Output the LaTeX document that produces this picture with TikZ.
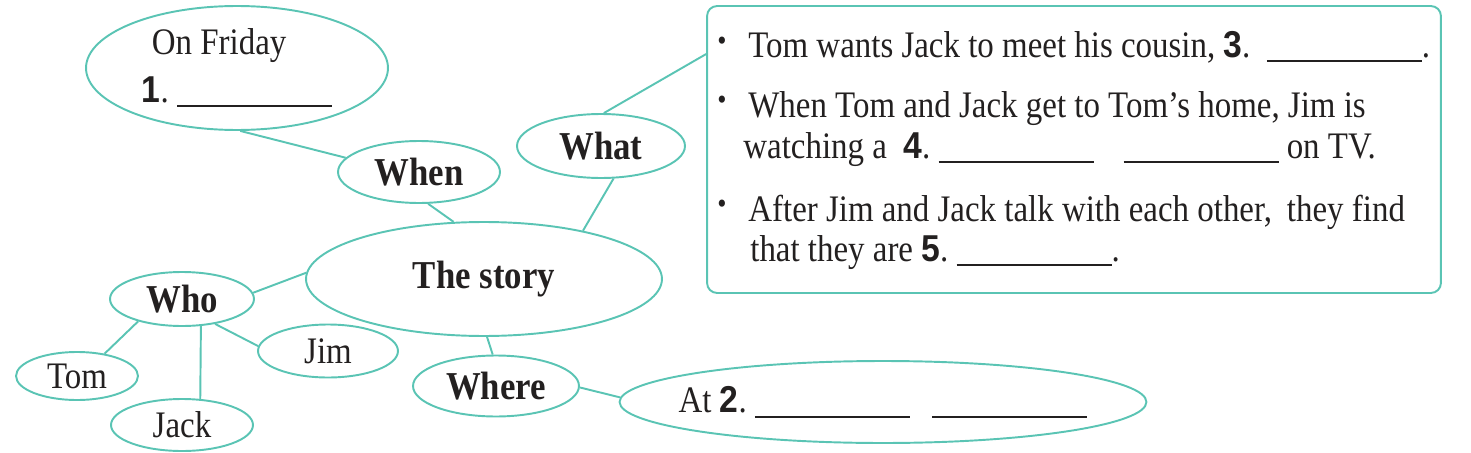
\documentclass[tikz,border=0pt]{standalone}
\usepackage{fontspec}
\setmainfont{Liberation Serif}[FakeStretch=0.88]
\newfontfamily\numfont{Liberation Sans}[FakeStretch=0.9]
\usetikzlibrary{shapes.geometric, calc}
\definecolor{MapTeal}{RGB}{90,196,180}
\definecolor{InkGray}{RGB}{35,32,32}
\newcommand{\qnum}[1]{{\numfont\bfseries #1}}
\newcommand{\blank}{\rule[-3pt]{3.1cm}{1.1pt}}

\begin{document}
\begin{tikzpicture}[x=0.02cm, y=-0.02cm,
    every node/.style={text=InkGray, font=\fontsize{21.3}{25}\selectfont},
    bubble/.style={draw=MapTeal, line width=1.1pt, ellipse, inner sep=0pt},
    key/.style={bubble, font=\fontsize{22.5}{26}\selectfont\bfseries},
    link/.style={draw=MapTeal, line width=1.1pt},
    infobox/.style={draw=MapTeal, line width=1.1pt, rounded corners=0.2cm, inner sep=0pt},
    item/.style={anchor=base west, inner sep=0pt},
    dot/.style={inner sep=0pt, font=\fontsize{17}{17}\selectfont}]
        \useasboundingbox (0,0) rectangle (1471,453);

        % question bubbles
        \node[bubble, minimum width=6.04cm, minimum height=2.48cm, align=left] (friday) at (237,68) {\hspace*{0.2cm}On Friday\\[2pt]\qnum{1}.\ \blank};
        \node[key, minimum width=3.24cm, minimum height=1.24cm] (when) at (419,172) {When};
        \node[key, minimum width=3.36cm, minimum height=1.28cm] (what) at (601,146) {What};
        \node[key, minimum width=7.12cm, minimum height=2.28cm] (story) at (484,279) {The story};
        \node[key, minimum width=2.88cm, minimum height=1.08cm] (who) at (182,299) {Who};
        \node[bubble, minimum width=2.44cm, minimum height=0.96cm] (tom) at (77,376) {Tom};
        \node[bubble, minimum width=2.8cm, minimum height=1.06cm] (jim) at (328,351) {Jim};
        \node[bubble, minimum width=2.84cm, minimum height=1.04cm] (jack) at (182,425) {Jack};
        \node[key, minimum width=3.32cm, minimum height=1.22cm] (where) at (496,386) {Where};
        \node[bubble, minimum width=10.54cm, minimum height=1.64cm] (at) at (883,402) {\makebox[0pt]{At \qnum{2}.\ \blank\hspace{0.45cm}\blank}};

        % what box
        \node[infobox, minimum width=14.68cm, minimum height=5.74cm] (box) at (1074,149.5) {};
        \node[dot] (b1) at (722,44) {\textbullet};
        \node[dot] (b2) at (722,103) {\textbullet};
        \node[dot] (b3) at (722,207) {\textbullet};
        \node[item] (l1) at (748,57) {Tom wants Jack to meet his cousin, \qnum{3}.\ \ \blank.};
        \node[item] (l2) at (748,117) {When Tom and Jack get to Tom's home, Jim is};
        \node[item] (l3) at (743,158) {watching a \ \qnum{4}.\ \blank\hspace{0.6cm}\blank\ on TV.};
        \node[item] (l4) at (748,221) {After Jim and Jack talk with each other,\hspace{0.3cm}they find};
        \node[item] (l5) at (750,261) {that they are \qnum{5}.\ \blank.};

        % links
        \draw[link] (friday.-87) -- (when.169);
        \draw[link] (when.-74) -- (story.118);
        \draw[link] (what.-69) -- (story.26);
        \draw[link] (what.85) -- ($(box.north west)+(0,49)$);
        \draw[link] (who.5) -- (story.178);
        \draw[link] (who.-153) -- (tom.39);
        \draw[link] (who.-55) -- (jack.55);
        \draw[link] (who.-37) -- (jim.176);
        \draw[link] (story.-87) -- (where.96);
        \draw[link] (where.-1) -- (at.179);
    \end{tikzpicture}
\end{document}
